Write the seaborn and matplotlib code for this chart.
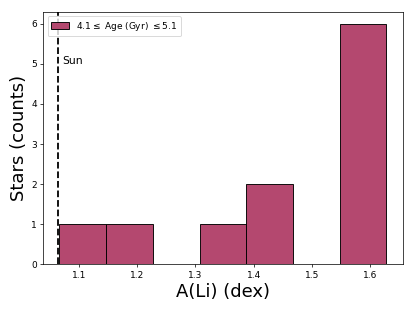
import matplotlib
matplotlib.use("Agg")
import matplotlib.pyplot as plt
import seaborn as sns

# A(Li) of stars with 4.1 <= age <= 5.1 Gyr
ali = [1.067, 1.19, 1.35, 1.42, 1.44, 1.57, 1.59, 1.60, 1.61, 1.62, 1.627]
sun_ali = 1.065
label = r"4.1$\leq$ Age (Gyr) $\leq$5.1"

fig, ax = plt.subplots(figsize=(6.4, 4.8), dpi=64.84)
sns.histplot(x=ali, bins=7, color="#b4486f", edgecolor="k", linewidth=1,
             alpha=1, label=label, ax=ax)
ax.axvline(sun_ali, color="k", ls="--", lw=2)
ax.text(sun_ali + 0.006, 5.0, "Sun", fontsize=12)

ax.set_xlabel("A(Li) (dex)", fontsize=20)
ax.set_ylabel("Stars (counts)", fontsize=20)
ax.legend(loc="upper left")
fig.subplots_adjust(left=0.104, right=0.970, top=0.962, bottom=0.151)
fig.savefig("out.png", dpi=64.84)
